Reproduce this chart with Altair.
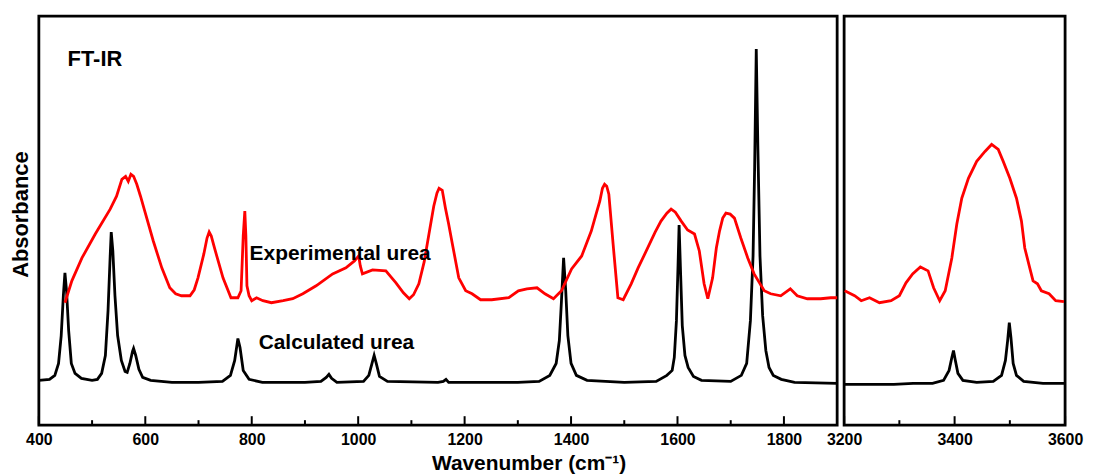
import altair as alt
import pandas as pd

# ---------------- data ----------------
# Calculated urea (black), 400-1900 cm-1
calc_left_wn = [400, 420, 430, 437, 442, 446, 449, 452, 456, 461, 468, 480, 500, 510, 518, 525, 530, 534,
                536, 539, 543, 548, 555, 562, 566, 571, 576, 578, 582, 588, 595, 610, 650, 700, 745, 760,
                768, 774, 778, 784, 795, 820, 900, 930, 940, 945, 950, 960, 1010, 1020, 1026, 1030, 1034,
                1040, 1055, 1150, 1160, 1165, 1170, 1300, 1340, 1360, 1372, 1378, 1382, 1386, 1390, 1394,
                1400, 1410, 1430, 1500, 1560, 1580, 1590, 1594, 1598, 1601, 1603, 1606, 1609, 1614, 1620,
                1630, 1645, 1700, 1720, 1730, 1737, 1742, 1745, 1748, 1751, 1755, 1760, 1766, 1772, 1780,
                1795, 1820, 1900]
calc_left_a = [0.45, 0.46, 0.50, 0.62, 0.90, 1.30, 1.53, 1.35, 0.95, 0.62, 0.52, 0.47, 0.45, 0.46, 0.52,
               0.70, 1.15, 1.70, 1.94, 1.75, 1.30, 0.90, 0.65, 0.54, 0.53, 0.62, 0.74, 0.77, 0.70, 0.56,
               0.48, 0.45, 0.43, 0.43, 0.44, 0.50, 0.65, 0.87, 0.78, 0.55, 0.46, 0.43, 0.43, 0.44, 0.48,
               0.51, 0.47, 0.43, 0.44, 0.50, 0.62, 0.70, 0.62, 0.49, 0.44, 0.43, 0.44, 0.46, 0.43, 0.43,
               0.44, 0.50, 0.62, 0.85, 1.25, 1.68, 1.35, 0.90, 0.62, 0.50, 0.45, 0.43, 0.44, 0.50, 0.55,
               0.68, 1.05, 1.60, 2.01, 1.50, 1.00, 0.70, 0.58, 0.49, 0.45, 0.44, 0.50, 0.62, 1.05, 1.70,
               2.60, 3.78, 2.80, 1.70, 1.10, 0.75, 0.58, 0.50, 0.46, 0.43, 0.42]

# Calculated urea (black), 3200-3600 cm-1
calc_right_wn = [3200, 3290, 3325, 3360, 3380, 3390, 3395, 3398, 3401, 3406, 3415, 3440, 3470, 3485, 3492,
                 3496, 3499, 3502, 3506, 3512, 3525, 3560, 3600]
calc_right_a = [0.41, 0.41, 0.42, 0.42, 0.45, 0.55, 0.68, 0.75, 0.66, 0.52, 0.45, 0.43, 0.44, 0.50, 0.65,
                0.85, 1.03, 0.88, 0.62, 0.50, 0.44, 0.42, 0.42]

# Experimental urea (red), 400-1900 cm-1
exp_left_wn = [449, 462, 481, 506, 534, 546, 556, 563, 568, 573, 578, 584, 591, 599, 615, 631, 646, 657, 668,
               684, 692, 699, 710, 716, 720, 724, 730, 746, 761, 774, 780, 784, 787, 789, 791, 795, 800, 809,
               821, 837, 859, 877, 896, 921, 952, 977, 993, 1001, 1004, 1008, 1027, 1052, 1071, 1085, 1096,
               1104, 1114, 1124, 1133, 1142, 1148, 1152, 1158, 1164, 1170, 1177, 1189, 1202, 1214, 1230, 1251,
               1283, 1301, 1317, 1336, 1351, 1367, 1382, 1401, 1420, 1438, 1447, 1454, 1459, 1463, 1467, 1471,
               1479, 1488, 1498, 1513, 1526, 1544, 1558, 1569, 1580, 1588, 1596, 1607, 1619, 1632, 1641, 1650,
               1657, 1666, 1673, 1679, 1685, 1691, 1699, 1707, 1719, 1732, 1744, 1763, 1775, 1794, 1812,
               1825, 1844, 1869, 1888, 1900]
exp_left_a = [1.23, 1.45, 1.68, 1.92, 2.17, 2.30, 2.47, 2.50, 2.45, 2.52, 2.50, 2.42, 2.30, 2.15, 1.85, 1.58,
              1.38, 1.32, 1.30, 1.30, 1.36, 1.48, 1.72, 1.88, 1.94, 1.90, 1.78, 1.48, 1.28, 1.28, 1.35, 1.90,
              2.15, 1.90, 1.40, 1.30, 1.25, 1.28, 1.25, 1.23, 1.25, 1.27, 1.32, 1.40, 1.52, 1.58, 1.65, 1.70,
              1.60, 1.52, 1.56, 1.55, 1.43, 1.33, 1.27, 1.31, 1.42, 1.64, 1.92, 2.20, 2.33, 2.38, 2.36, 2.18,
              2.02, 1.82, 1.48, 1.35, 1.32, 1.26, 1.26, 1.28, 1.35, 1.37, 1.38, 1.32, 1.27, 1.35, 1.57, 1.70,
              1.95, 2.12, 2.25, 2.38, 2.42, 2.40, 2.32, 1.82, 1.28, 1.26, 1.42, 1.58, 1.78, 1.94, 2.05, 2.13,
              2.17, 2.14, 2.05, 1.96, 1.92, 1.75, 1.42, 1.27, 1.48, 1.78, 1.95, 2.08, 2.13, 2.12, 2.08, 1.88,
              1.68, 1.52, 1.35, 1.32, 1.30, 1.37, 1.30, 1.27, 1.27, 1.28, 1.28]

# Experimental urea (red), 3200-3600 cm-1
exp_right_wn = [3201, 3219, 3231, 3246, 3264, 3285, 3300, 3312, 3324, 3338, 3352, 3362, 3373, 3383, 3395,
                3404, 3413, 3425, 3440, 3455, 3467, 3479, 3488, 3500, 3512, 3521, 3527, 3536, 3542, 3550,
                3557, 3571, 3583, 3598]
exp_right_a = [1.35, 1.30, 1.25, 1.28, 1.23, 1.25, 1.30, 1.43, 1.52, 1.59, 1.55, 1.38, 1.25, 1.35, 1.68,
               2.02, 2.28, 2.48, 2.65, 2.75, 2.82, 2.77, 2.65, 2.48, 2.28, 2.05, 1.78, 1.58, 1.45, 1.42,
               1.35, 1.32, 1.25, 1.24]

# tick values
left_major = [400, 600, 800, 1000, 1200, 1400, 1600, 1800]
left_minor = [500, 700, 900, 1100, 1300, 1500, 1700]
right_major = [3200, 3400, 3600]
right_minor = [3300, 3500]

# annotations
ann_text = ["FT-IR", "Experimental urea", "Calculated urea"]
ann_wn = [454, 796, 813]
ann_a = [3.68, 1.72, 0.83]
ann_size = [22, 21, 21]

# ---------------- chart ----------------
H = 411
WL = 802
WR = 222
YMAX = 4.11
FONT = "Liberation Sans"

ysc = alt.Scale(domain=[0, YMAX], nice=False, zero=False)

def xaxis(values, title=None, **kw):
    return alt.Axis(values=values, title=title, ticks=False, domain=False, grid=False,
                    labelFont=FONT, labelFontWeight="bold", labelFontSize=16, labelColor="black",
                    labelPadding=6, labelOverlap=False, labelBound=False, labelFlush=False,
                    format="d", **kw)

xl = alt.X("wn:Q", scale=alt.Scale(domain=[400, 1900], nice=False, zero=False),
           axis=xaxis(left_major, title="Wavenumber (cm⁻¹)", titleX=492, titleY=45,
                      titleBaseline="alphabetic", titleFont=FONT, titleFontWeight="bold",
                      titleFontSize=21, titleColor="black", titleAnchor="start", titleAlign="center"))
xr = alt.X("wn:Q", scale=alt.Scale(domain=[3200, 3600], nice=False, zero=False),
           axis=xaxis(right_major))

yl = alt.Y("a:Q", scale=ysc,
           axis=alt.Axis(title="Absorbance", labels=False, ticks=False, domain=False, grid=False,
                         titleFont=FONT, titleFontWeight="bold", titleFontSize=22, titleColor="black",
                         titlePadding=6, titleY=199, titleAnchor="start", titleAlign="center"))
yr = alt.Y("a:Q", scale=ysc, axis=None)


def panel(xenc, yenc, cwn, ca, ewn, ea, major, minor, width, annotations=None):
    calc = pd.DataFrame({"wn": cwn, "a": ca})
    exp = pd.DataFrame({"wn": ewn, "a": ea})
    layers = [
        alt.Chart(calc).mark_line(color="black", strokeWidth=2.8).encode(x=xenc, y=yenc),
        alt.Chart(exp).mark_line(color="#ff0000", strokeWidth=2.8).encode(x=xenc, y=yenc),
        alt.Chart(pd.DataFrame({"wn": major})).mark_rule(color="black", strokeWidth=2).encode(
            x=xenc, y=alt.value(H), y2=alt.value(H - 9)),
        alt.Chart(pd.DataFrame({"wn": minor})).mark_rule(color="black", strokeWidth=2).encode(
            x=xenc, y=alt.value(H), y2=alt.value(H - 5)),
    ]
    if annotations is not None:
        for txt, w, a, s in zip(*annotations):
            layers.append(
                alt.Chart(pd.DataFrame({"wn": [w], "a": [a], "t": [txt]})).mark_text(
                    align="left", baseline="middle", font=FONT, fontWeight="bold",
                    fontSize=s, color="black").encode(x=xenc, y=yenc, text="t:N"))
    return alt.layer(*layers).properties(width=width, height=H)


left = panel(xl, yl, calc_left_wn, calc_left_a, exp_left_wn, exp_left_a, left_major, left_minor, WL,
             (ann_text, ann_wn, ann_a, ann_size))
right = panel(xr, yr, calc_right_wn, calc_right_a, exp_right_wn, exp_right_a, right_major, right_minor, WR)

chart = alt.HConcatChart(hconcat=[left, right], spacing=7, bounds="flush", background="white",
                         padding={"left": 0, "top": 5, "right": 0, "bottom": 0}).configure_view(
    stroke="black", strokeWidth=2.8)

chart.save("out.html", embed_options={"renderer": "svg", "actions": False})
